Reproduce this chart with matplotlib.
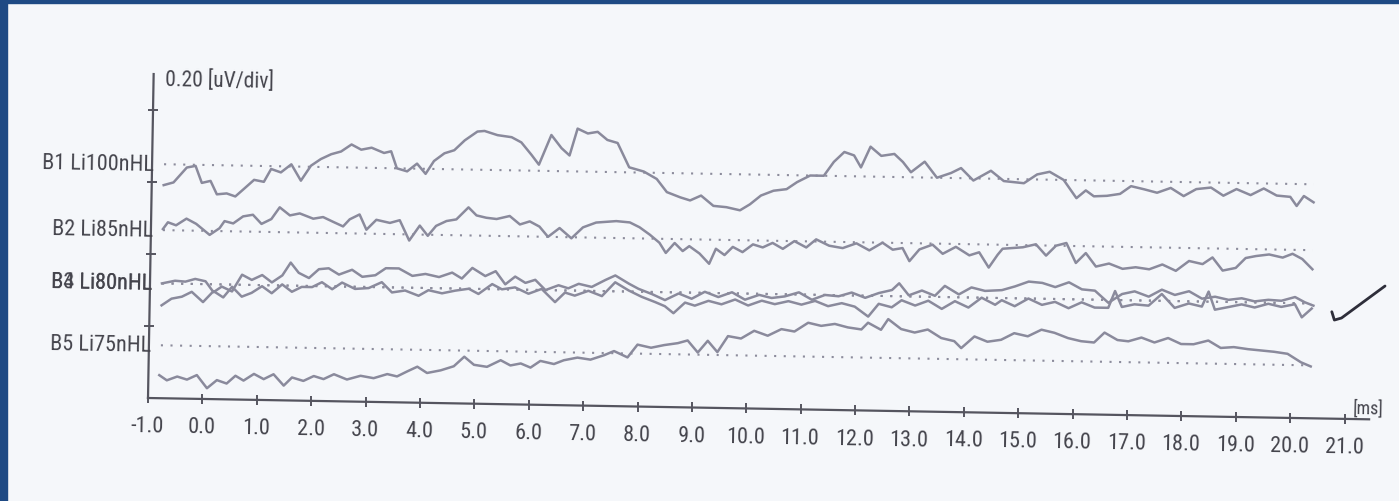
import matplotlib
matplotlib.use("Agg")
import matplotlib.pyplot as plt
from matplotlib.transforms import Affine2D
from matplotlib.patches import Rectangle

x_ticks = list(range(-1, 22))
y_ticks = [0.2, 0.4, 0.6, 0.8]
y_top = 0.9
scale_label = "0.20 [uV/div]"
unit_label = "[ms]"

labels = ["B1 Li100nHL", "B2 Li85nHL", "B3 Li80nHL", "B4 Li80nHL", "B5 Li75nHL"]
baselines = [0.650, 0.467, 0.319, 0.319, 0.147]   # uV, dotted reference lines
trace_span = (-0.78, 20.36)

b1_ms = [-0.78, -0.60, -0.36, -0.20, -0.08, 0.08, 0.20, 0.38, 0.54, 0.70,
         0.88, 1.06, 1.19, 1.37, 1.56, 1.74, 1.92, 2.10, 2.29, 2.47,
         2.66, 2.84, 3.03, 3.26, 3.39, 3.50, 3.69, 3.87, 4.03, 4.18,
         4.37, 4.55, 4.74, 4.97, 5.10, 5.34, 5.60, 5.78, 5.97, 6.11,
         6.33, 6.52, 6.67, 6.81, 7.00, 7.18, 7.36,
         7.55, 7.77, 8.04, 8.28, 8.47, 8.72, 8.90, 9.10, 9.33, 9.57,
         9.82, 10.00, 10.20, 10.43, 10.67, 10.86, 11.10, 11.35, 11.53, 11.72,
         11.90, 12.03, 12.20, 12.40, 12.64, 12.80, 12.95, 13.20, 13.43, 13.69,
         13.87, 14.10, 14.42,
         14.66, 15.03, 15.27, 15.50, 15.76, 16.00, 16.17, 16.32, 16.56, 16.80,
         17.00, 17.24, 17.48, 17.73, 17.97, 18.20, 18.47, 18.70, 18.94, 19.20,
         19.44, 19.68, 19.93, 20.05, 20.18, 20.36]
b1_uv = [-0.058, -0.050, -0.008, -0.003, -0.050, -0.044, -0.081, -0.078, -0.086, -0.064,
         -0.039, -0.044, -0.008, -0.017, 0.006, -0.039, 0.003, 0.022, 0.036, 0.044,
         0.064, 0.050, 0.056, 0.042, 0.047, 0.000, -0.008, 0.014, -0.014, 0.022,
         0.044, 0.053, 0.081, 0.106, 0.108, 0.097, 0.092, 0.078, 0.044, 0.017,
         0.100, 0.064, 0.044, 0.119, 0.106, 0.111, 0.089,
         0.081, 0.014, 0.003, -0.017, -0.053, -0.067, -0.075, -0.061, -0.089, -0.092,
         -0.100, -0.083, -0.058, -0.044, -0.039, -0.019, 0.000, 0.000, 0.039, 0.067,
         0.058, 0.025, 0.083, 0.058, 0.064, 0.042, 0.014, 0.044, 0.000, 0.014,
         0.028, -0.006, 0.022,
         -0.006, -0.011, 0.014, 0.022, 0.000, -0.050, -0.028, -0.044, -0.042, -0.036,
         -0.014, -0.022, -0.031, -0.017, -0.039, -0.019, -0.014, -0.036, -0.017, -0.033,
         -0.014, -0.033, -0.036, -0.061, -0.033, -0.050]

b2_ms = [-0.78, -0.69, -0.54, -0.35, -0.17, 0.08, 0.26, 0.35, 0.51, 0.69,
         0.87, 1.03, 1.21, 1.36, 1.55, 1.73, 1.98, 2.16, 2.35, 2.53,
         2.65, 2.83, 2.96, 3.14, 3.39, 3.57, 3.75, 3.94, 4.09, 4.24,
         4.43, 4.61, 4.83, 4.98, 5.16, 5.35, 5.59, 5.78, 5.96, 6.14,
         6.30, 6.51, 6.73, 6.94, 7.18,
         7.55, 7.80, 7.98, 8.17, 8.35, 8.47, 8.63, 8.78, 8.90, 9.09,
         9.27, 9.39, 9.55, 9.70, 9.88, 10.07, 10.25, 10.43, 10.62, 10.83,
         11.05, 11.23, 11.47, 11.72, 11.97, 12.21, 12.45, 12.64, 12.82, 12.95,
         13.13, 13.37, 13.56, 13.80, 14.05, 14.23, 14.41, 14.57,
         14.66, 15.03, 15.27, 15.46, 15.64, 15.83, 16.01, 16.19, 16.38, 16.62,
         16.87, 17.11, 17.36, 17.60, 17.85, 18.09, 18.34, 18.52, 18.71, 18.95,
         19.13, 19.32, 19.56, 19.81, 19.99, 20.17, 20.36]
b2_uv = [0.003, 0.022, 0.014, 0.033, 0.019, -0.011, 0.008, 0.028, 0.022, 0.042,
         0.047, 0.022, 0.036, 0.069, 0.047, 0.053, 0.039, 0.044, 0.031, 0.019,
         0.039, 0.053, 0.011, 0.039, 0.031, 0.039, -0.017, 0.025, -0.003, 0.025,
         0.039, 0.044, 0.078, 0.056, 0.050, 0.047, 0.056, 0.033, 0.042, 0.028,
         0.000, 0.025, -0.003, 0.028, 0.042,
         0.047, 0.044, 0.031, 0.011, -0.011, -0.039, -0.011, -0.033, -0.019, -0.039,
         -0.067, -0.025, -0.042, -0.019, -0.033, -0.011, -0.019, -0.006, -0.022, 0.000,
         -0.017, 0.006, -0.011, -0.017, -0.003, -0.022, 0.000, -0.019, -0.014, -0.050,
         -0.017, -0.003, -0.028, -0.008, -0.031, -0.022, -0.064, -0.028,
         -0.011, -0.006, 0.003, -0.028, 0.000, 0.008, -0.047, -0.019, -0.056, -0.047,
         -0.061, -0.056, -0.061, -0.047, -0.064, -0.036, -0.044, -0.025, -0.061, -0.053,
         -0.025, -0.019, -0.014, -0.022, -0.011, -0.025, -0.053]

b3_ms = [-0.78, -0.54, -0.35, -0.17, 0.02, 0.17, 0.32, 0.51, 0.69, 0.87,
         1.06, 1.24, 1.43, 1.58, 1.73, 1.92, 2.10, 2.28, 2.47, 2.71,
         2.90, 3.14, 3.33, 3.57, 3.82, 4.06, 4.31, 4.55, 4.73, 4.92,
         5.16, 5.35, 5.53, 5.71, 5.90, 6.08, 6.27, 6.51, 6.69, 6.88,
         7.12, 7.37,
         7.55, 7.80, 7.98, 8.23, 8.47, 8.72, 8.96, 9.20, 9.45, 9.70,
         9.94, 10.20, 10.43, 10.67, 10.93, 11.17, 11.41, 11.66, 11.90, 12.15,
         12.40, 12.64, 12.77, 12.95, 13.19, 13.43, 13.61, 13.87, 14.10, 14.35,
         14.66, 14.90, 15.15, 15.40, 15.64, 15.89, 16.13, 16.37, 16.62, 16.87,
         17.10, 17.36, 17.60, 17.84, 18.10, 18.34, 18.58, 18.83, 19.07, 19.31,
         19.56, 19.80, 20.05, 20.23, 20.39]
b3_uv = [0.000, 0.008, 0.006, 0.014, 0.008, -0.022, -0.006, -0.019, 0.028, 0.014,
         0.028, 0.008, 0.028, 0.064, 0.036, 0.022, 0.047, 0.050, 0.033, 0.047,
         0.028, 0.033, 0.053, 0.053, 0.033, 0.039, 0.031, 0.044, 0.028, 0.058,
         0.036, 0.050, 0.014, 0.036, 0.019, 0.028, 0.000, 0.014, 0.006, 0.019,
         0.011, 0.031,
         0.044, 0.022, 0.008, -0.006, -0.022, -0.003, -0.017, 0.003, -0.011, 0.003,
         -0.017, -0.003, -0.011, -0.006, 0.006, -0.014, 0.000, -0.003, 0.008, -0.006,
         0.008, 0.017, 0.036, 0.003, 0.017, 0.003, 0.031, 0.008, 0.028, 0.019,
         0.022, 0.033, 0.047, 0.044, 0.033, 0.047, 0.028, 0.025, -0.008, 0.017,
         0.025, 0.011, 0.031, 0.017, 0.028, 0.008, 0.014, 0.006, 0.011, 0.003,
         0.008, 0.006, 0.017, 0.003, -0.006]

b4_ms = [-0.78, -0.60, -0.41, -0.23, -0.02, 0.17, 0.35, 0.51, 0.69, 0.87,
         1.06, 1.24, 1.43, 1.61, 1.79, 1.98, 2.16, 2.35, 2.53, 2.77,
         3.02, 3.26, 3.45, 3.69, 3.94, 4.12, 4.37, 4.61, 4.86, 5.04,
         5.29, 5.47, 5.71, 5.96, 6.20, 6.45, 6.63, 6.81, 7.06, 7.31,
         7.55, 7.80, 8.04, 8.29, 8.47, 8.63, 8.84, 9.02, 9.27, 9.51,
         9.76, 10.00, 10.25, 10.49, 10.74, 10.98, 11.23, 11.47, 11.72, 11.96,
         12.21, 12.40, 12.64, 12.82, 13.07, 13.31, 13.56, 13.80, 14.05, 14.29,
         14.54,
         14.66, 14.90, 15.15, 15.40, 15.64, 15.89, 16.13, 16.37, 16.62, 16.74,
         16.87, 17.10, 17.36, 17.60, 17.84, 18.10, 18.34, 18.46, 18.58, 18.83,
         19.07, 19.31, 19.56, 19.80, 20.05, 20.18, 20.36]
b4_uv = [-0.061, -0.042, -0.036, -0.022, -0.050, -0.019, -0.036, -0.006, -0.033, -0.022,
         -0.003, -0.022, 0.003, -0.017, -0.003, -0.003, 0.011, -0.008, 0.011, -0.006,
         -0.003, 0.014, -0.014, -0.008, -0.022, -0.006, -0.014, -0.006, 0.000, -0.014,
         0.014, 0.000, 0.006, -0.011, 0.003, -0.033, -0.006, -0.014, 0.000, -0.014,
         0.025, 0.003, -0.014, -0.028, -0.039, -0.058, -0.028, -0.036, -0.022, -0.031,
         -0.017, -0.033, -0.019, -0.028, -0.019, -0.028, -0.017, -0.031, -0.022, -0.031,
         -0.058, -0.022, -0.031, -0.011, -0.025, -0.011, -0.033, -0.011, -0.028, 0.000,
         -0.019,
         -0.006, -0.022, 0.000, -0.017, -0.008, -0.025, -0.008, -0.022, -0.022, 0.025,
         -0.019, -0.011, -0.014, 0.019, -0.019, -0.006, -0.014, 0.028, -0.022, -0.014,
         -0.006, -0.014, -0.003, -0.011, -0.003, -0.039, -0.014]

b5_ms = [-0.80, -0.66, -0.47, -0.29, -0.11, 0.08, 0.26, 0.44, 0.60, 0.75,
         0.94, 1.12, 1.30, 1.49, 1.64, 1.85, 2.04, 2.22, 2.41, 2.65,
         2.90, 3.14, 3.39, 3.57, 3.75, 3.94, 4.12, 4.37, 4.61, 4.80,
         4.98, 5.22, 5.47, 5.65, 5.84, 6.02, 6.20, 6.45, 6.63, 6.88,
         7.12, 7.37,
         7.55, 7.80, 7.98, 8.23, 8.47, 8.72, 8.90, 9.09, 9.27, 9.45,
         9.64, 9.88, 10.12, 10.37, 10.62, 10.86, 11.11, 11.35, 11.60, 11.84,
         12.09, 12.21, 12.45, 12.58, 12.82, 13.07, 13.31, 13.56, 13.80, 13.93,
         14.17, 14.41,
         14.66, 14.90, 15.15, 15.40, 15.64, 15.89, 16.13, 16.37, 16.56, 16.80,
         17.00, 17.24, 17.48, 17.73, 17.97, 18.20, 18.47, 18.70, 18.94, 19.20,
         19.44, 19.68, 19.93, 20.18, 20.36]
b5_uv = [-0.083, -0.097, -0.086, -0.094, -0.081, -0.117, -0.094, -0.103, -0.081, -0.094,
         -0.075, -0.089, -0.075, -0.106, -0.083, -0.092, -0.078, -0.086, -0.072, -0.086,
         -0.075, -0.081, -0.069, -0.075, -0.061, -0.047, -0.064, -0.056, -0.044, -0.017,
         -0.039, -0.044, -0.025, -0.039, -0.033, -0.044, -0.025, -0.033, -0.022, -0.014,
         -0.019, -0.006,
         0.006, -0.011, 0.025, 0.017, 0.025, 0.031, 0.039, 0.006, 0.039, 0.008,
         0.053, 0.047, 0.069, 0.056, 0.075, 0.069, 0.094, 0.086, 0.092, 0.083,
         0.078, 0.097, 0.078, 0.108, 0.081, 0.072, 0.081, 0.058, 0.050, 0.031,
         0.064, 0.050,
         0.056, 0.075, 0.067, 0.086, 0.078, 0.064, 0.056, 0.053, 0.081, 0.061,
         0.058, 0.069, 0.056, 0.069, 0.053, 0.053, 0.064, 0.044, 0.047, 0.042,
         0.039, 0.036, 0.031, 0.008, -0.003]

traces = [(b1_ms, b1_uv), (b2_ms, b2_uv), (b3_ms, b3_uv), (b4_ms, b4_uv), (b5_ms, b5_uv)]

# hand-drawn tick mark next to B3/B4
check_ms = [20.73, 20.78, 20.91, 21.70]
check_uv = [0.297, 0.274, 0.280, 0.371]

# ---- look -------------------------------------------------------------------
W, H = 1399, 502
X0, PX_PER_MS = 148, 54.4      # pixel column of -1.0 ms, pixels per ms
Y0, PX_PER_UV = 399, 360       # pixel row of 0 uV, pixels per uV
TILT = -1.0                    # the print-out was scanned slightly rotated

PAPER = "#f5f7fa"
BORDER = "#1e4a84"
AXIS_C = "#55555f"
TRACE_C = "#8a8a9c"
DOT_C = "#8c8c9c"
TEXT_C = "#44444c"
NARROW = ["Roboto Condensed", "PT Sans Narrow", "Liberation Sans", "DejaVu Sans"]

for (ms, uv), name in zip(traces, labels):
    assert len(ms) == len(uv), (name, len(ms), len(uv))

fig = plt.figure(figsize=(W / 100, H / 100), dpi=100, facecolor=PAPER)
ax = fig.add_axes([0, 0, 1, 1])
ax.set_xlim(-1 - X0 / PX_PER_MS, -1 + (W - X0) / PX_PER_MS)
ax.set_ylim((Y0 - H) / PX_PER_UV, Y0 / PX_PER_UV)
ax.set_axis_off()

tilt = Affine2D().rotate_deg_around(X0, H - Y0, TILT)
tr = ax.transData + tilt
txt = dict(family=NARROW, color=TEXT_C, rotation=TILT, rotation_mode="anchor",
           transform=tr)

# axes drawn by hand so they can follow the scan tilt
ax.plot([-1, -1], [0, y_top], color=AXIS_C, lw=1.6, transform=tr, clip_on=False)
ax.plot([-1, 21.45], [0, 0], color=AXIS_C, lw=1.6, transform=tr, clip_on=False)
ax.plot(x_ticks, [0] * len(x_ticks), ls="none", marker="|", ms=7, mew=1.4,
        color=AXIS_C, transform=tr)
ax.plot([-1] * len(y_ticks), y_ticks, ls="none", marker="_", ms=7, mew=1.4,
        color=AXIS_C, transform=tr)

for t in x_ticks:
    ax.text(t, -0.078, f"{t:.1f}", ha="center", va="center", fontsize=16, **txt)
ax.text(21.43, 0.031, unit_label, ha="center", va="center", fontsize=13, **txt)
ax.text(-0.78, 0.886, scale_label, ha="left", va="center", fontsize=15.5, **txt)

for name, base, (ms, uv) in zip(labels, baselines, traces):
    ax.text(-0.96, base, name, ha="right", va="center", fontsize=16, **txt)
    ax.plot(trace_span, [base, base], color=DOT_C, lw=1.5, ls=(0, (1, 3.6)),
            transform=tr)
    ax.plot(ms, [base + v for v in uv], color=TRACE_C, lw=1.8,
            solid_joinstyle="round", transform=tr)

ax.plot(check_ms, check_uv, color="#2e2e3a", lw=2.0, solid_capstyle="round",
        solid_joinstyle="round", transform=tr, clip_on=False)

# dark blue slide frame on the left and top
fig.patches.append(Rectangle((0, 0), 7 / W, 1, transform=fig.transFigure,
                             color=BORDER, zorder=5))
fig.patches.append(Rectangle((0, 1 - 4 / H), 1, 4 / H, transform=fig.transFigure,
                             color=BORDER, zorder=5))

fig.savefig("out.png", dpi=100, facecolor=PAPER)
